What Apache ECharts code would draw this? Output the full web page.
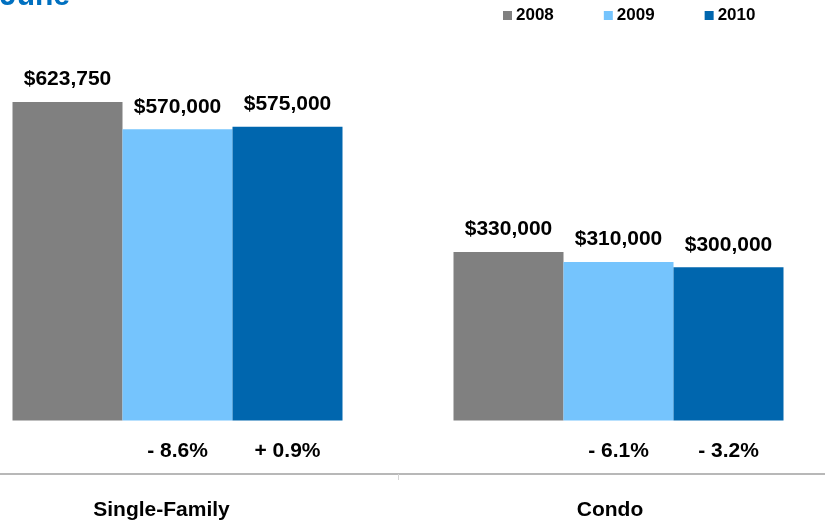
<!DOCTYPE html>
<html>
<head>
<meta charset="utf-8">
<script src="https://cdn.jsdelivr.net/npm/echarts@6/dist/echarts.min.js"></script>
<style>
  html, body { margin: 0; padding: 0; background: #fff; }
  #chart { width: 825px; height: 523px; }
</style>
</head>
<body>
<div id="chart"></div>
<script>
var categories = ['Single-Family', 'Condo'];
var years = ['2008', '2009', '2010'];
var price2008 = [623750, 330000];
var price2009 = [570000, 310000];
var price2010 = [575000, 300000];
var change2009 = ['- 8.6%', '- 6.1%'];
var change2010 = ['+ 0.9%', '- 3.2%'];

var yMin = -105000;
var yMax = 700000;
var font = 'Liberation Sans, Arial, sans-serif';
var colors = ['#808080', '#75C4FD', '#0066AE'];

var chart = echarts.init(document.getElementById('chart'));

function priceLabel(p) {
  return '$' + p.value.toLocaleString('en-US');
}

function priceSeries(name, data, stack, color) {
  return {
    name: name,
    type: 'bar',
    stack: stack,
    barWidth: 110,
    barGap: 0,
    itemStyle: { color: color },
    label: {
      show: true,
      position: 'top',
      distance: 12,
      formatter: priceLabel,
      color: '#000',
      fontFamily: font,
      fontWeight: 'bold',
      fontSize: 21
    },
    data: data
  };
}

function changeSeries(labels, stack) {
  return {
    type: 'bar',
    stack: stack,
    barWidth: 110,
    silent: true,
    itemStyle: { color: 'rgba(0,0,0,0)' },
    label: {
      show: true,
      position: 'inside',
      offset: [0, 4],
      formatter: function (p) { return labels[p.dataIndex]; },
      color: '#000',
      fontFamily: font,
      fontWeight: 'bold',
      fontSize: 21
    },
    data: labels.map(function () { return yMin; })
  };
}

var option = {
  animation: false,
  title: {
    text: 'June',
    left: 0,
    top: -18,
    padding: 0,
    textStyle: { color: '#0070C0', fontFamily: font, fontWeight: 'bold', fontSize: 30, lineHeight: 30 }
  },
  legend: {
    data: years,
    left: 503,
    top: 7,
    padding: 0,
    icon: 'rect',
    itemWidth: 9,
    itemHeight: 9,
    itemGap: 50,
    textStyle: { color: '#000', fontFamily: font, fontWeight: 'bold', fontSize: 17, lineHeight: 17, padding: [0, 0, 0, -1] }
  },
  grid: { left: -43, right: -14, top: 63, bottom: 49, outerBoundsMode: 'none' },
  xAxis: {
    type: 'category',
    data: categories,
    axisLine: { onZero: false, lineStyle: { color: '#A0A0A0', width: 1.5 } },
    axisTick: { show: true, length: 6, lineStyle: { color: '#D4D4D4' } },
    axisLabel: {
      margin: 26,
      formatter: function (v, i) { return '{c' + i + '|' + v + '}'; },
      rich: {
        c0: { padding: [0, 32, 0, 0], color: '#000', fontFamily: font, fontWeight: 'bold', fontSize: 21 },
        c1: { padding: [0, 17, 0, 0], color: '#000', fontFamily: font, fontWeight: 'bold', fontSize: 21 }
      }
    }
  },
  yAxis: {
    type: 'value',
    min: yMin,
    max: yMax,
    show: false,
    splitLine: { show: false }
  },
  series: [
    priceSeries('2008', price2008, 'a', colors[0]),
    priceSeries('2009', price2009, 'b', colors[1]),
    priceSeries('2010', price2010, 'c', colors[2]),
    changeSeries(change2009, 'b'),
    changeSeries(change2010, 'c')
  ]
};

chart.setOption(option);
</script>
</body>
</html>
